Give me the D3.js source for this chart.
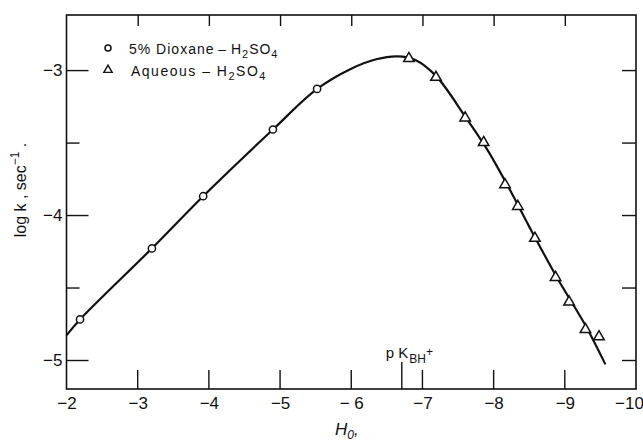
<!DOCTYPE html>
<html>
<head>
<meta charset="utf-8">
<script src="https://cdn.jsdelivr.net/npm/d3@7"></script>
<style>
  body { margin: 0; background: #fff; }
  text { font-family: "Liberation Sans", Arial, sans-serif; fill: #111; }
</style>
</head>
<body>
<div id="container"></div>
<script>
// Data
const dioxaneH0 = [-2.19, -3.2, -3.92, -4.9, -5.52];
const dioxaneLogK = [-4.72, -4.23, -3.87, -3.41, -3.13];
const aqueousH0 = [-6.81, -7.19, -7.6, -7.86, -8.16, -8.34, -8.58, -8.87, -9.06, -9.29, -9.48];
const aqueousLogK = [-2.92, -3.05, -3.33, -3.5, -3.79, -3.94, -4.16, -4.43, -4.6, -4.79, -4.84];
const curveH0 = [-2.0, -2.19, -3.2, -3.92, -4.9, -5.52, -6.0, -6.35, -6.65, -6.9, -7.19, -7.6, -7.9, -8.2, -8.5, -8.9, -9.3, -9.57];
const curveLogK = [-4.83, -4.72, -4.23, -3.87, -3.41, -3.13, -2.99, -2.925, -2.905, -2.93, -3.04, -3.32, -3.54, -3.8, -4.08, -4.44, -4.77, -5.03];
const xTicks = [-2, -3, -4, -5, -6, -7, -8, -9, -10];
const xTickLabels = ["\u22122", "\u22123", "\u22124", "\u22125", "\u2212 6", "\u22127", "\u22128", "\u22129", "\u221210"];
const yTicks = [-3, -4, -5];
const yMinorTicks = [-3.5, -4.5];
const pKBH = -6.71;

const width = 643, height = 441;
const margin = { top: 15, right: 7, bottom: 52, left: 66.5 };
const innerW = width - margin.left - margin.right;
const innerH = height - margin.top - margin.bottom;

const svg = d3.select("#container").append("svg")
  .attr("width", width).attr("height", height);
const g = svg.append("g")
  .attr("transform", "translate(" + margin.left + "," + margin.top + ")");

const x = d3.scaleLinear().domain([-2, -10]).range([0, innerW]);
const y = d3.scaleLinear().domain([-5.2, -2.62]).range([innerH, 0]);

function styleTicks(sel) {
  sel.select(".domain").remove();
  sel.selectAll("line").attr("stroke", "#111").attr("stroke-width", 1.4);
}

// frame
g.append("rect")
  .attr("width", innerW).attr("height", innerH)
  .attr("fill", "none").attr("stroke", "#111").attr("stroke-width", 1.6);

// bottom ticks point up into the plot
g.append("g").selectAll("line")
  .data(xTicks.slice(1, -1))
  .enter().append("line")
  .attr("x1", d => x(d)).attr("x2", d => x(d))
  .attr("y1", innerH).attr("y2", innerH - 19)
  .attr("stroke", "#111").attr("stroke-width", 1.4);

// bottom labels
const bottomLabels = g.append("g").attr("transform", "translate(0," + innerH + ")")
  .call(d3.axisBottom(x).tickValues(xTicks).tickSize(0).tickPadding(8)
    .tickFormat((d, i) => xTickLabels[i]));
bottomLabels.select(".domain").remove();
bottomLabels.selectAll("text").attr("font-size", 17).attr("fill", "#111")
  .attr("dx", d => d === -10 ? -7 : 0);

// top ticks point down
const topAx = g.append("g")
  .call(d3.axisBottom(x).tickValues(xTicks.slice(1, -1)).tickSize(11).tickFormat(""));
styleTicks(topAx);

// left axis
const leftAx = g.append("g")
  .call(d3.axisLeft(y).tickValues(yTicks).tickSize(-22).tickPadding(-2)
    .tickFormat(d => "\u2212" + Math.abs(d)));
styleTicks(leftAx);
leftAx.selectAll("text").attr("font-size", 17).attr("fill", "#111").attr("dx", -6);
const leftMinor = g.append("g")
  .call(d3.axisLeft(y).tickValues(yMinorTicks).tickSize(-13).tickFormat(""));
styleTicks(leftMinor);

// right axis
const rightAx = g.append("g").attr("transform", "translate(" + innerW + ",0)")
  .call(d3.axisRight(y).tickValues(yTicks.concat(yMinorTicks)).tickSize(-14).tickFormat(""));
styleTicks(rightAx);

// pK_BH+ marker
g.append("line")
  .attr("x1", x(pKBH)).attr("x2", x(pKBH))
  .attr("y1", innerH).attr("y2", innerH - 27)
  .attr("stroke", "#111").attr("stroke-width", 1.4);
const pk = g.append("text")
  .attr("x", x(pKBH) - 16).attr("y", innerH - 31)
  .attr("font-size", 15);
pk.append("tspan").text("p K");
pk.append("tspan").attr("font-size", 12).attr("dy", 5).attr("dx", 1).text("BH");
pk.append("tspan").attr("font-size", 12).attr("dy", -7).text("+");

// fitted curve
const curvePts = curveH0.map((h, i) => [h, curveLogK[i]]);
g.append("path").datum(curvePts)
  .attr("fill", "none").attr("stroke", "#111").attr("stroke-width", 2.2)
  .attr("d", d3.line().x(d => x(d[0])).y(d => y(d[1])).curve(d3.curveCatmullRom.alpha(0.5)));

// dioxane circles
g.selectAll(".circ").data(dioxaneH0.map((h, i) => [h, dioxaneLogK[i]]))
  .enter().append("circle")
  .attr("cx", d => x(d[0])).attr("cy", d => y(d[1])).attr("r", 3.6)
  .attr("fill", "#fff").attr("stroke", "#111").attr("stroke-width", 1.5);

// aqueous triangles
const tri = d3.symbol().type(d3.symbolTriangle).size(48);
g.selectAll(".tri").data(aqueousH0.map((h, i) => [h, aqueousLogK[i]]))
  .enter().append("path")
  .attr("d", tri)
  .attr("transform", d => "translate(" + x(d[0]) + "," + y(d[1]) + ")")
  .attr("fill", "#fff").attr("stroke", "#111").attr("stroke-width", 1.5);

// legend
const lg = svg.append("g");
lg.append("circle").attr("cx", 108).attr("cy", 48).attr("r", 3)
  .attr("fill", "#fff").attr("stroke", "#111").attr("stroke-width", 1.5);
lg.append("path").attr("d", d3.symbol().type(d3.symbolTriangle).size(30))
  .attr("transform", "translate(108,70)")
  .attr("fill", "#fff").attr("stroke", "#111").attr("stroke-width", 1.4);
const l1 = lg.append("text").attr("x", 129).attr("y", 54).attr("font-size", 14)
  .attr("letter-spacing", 1);
l1.append("tspan").text("5% Dioxane\u2009\u2013\u2009H");
l1.append("tspan").attr("font-size", 11).attr("dy", 4).text("2");
l1.append("tspan").attr("dy", -4).text("SO");
l1.append("tspan").attr("font-size", 11).attr("dy", 4).text("4");
const l2 = lg.append("text").attr("x", 131).attr("y", 76).attr("font-size", 14)
  .attr("letter-spacing", 1.5);
l2.append("tspan").text("Aqueous \u2013 H");
l2.append("tspan").attr("font-size", 11).attr("dy", 4).text("2");
l2.append("tspan").attr("dy", -4).text("SO");
l2.append("tspan").attr("font-size", 11).attr("dy", 4).text("4");

// y axis title
const yt = svg.append("text")
  .attr("transform", "translate(26,190) rotate(-90)")
  .attr("text-anchor", "middle").attr("font-size", 16);
yt.append("tspan").text("log k , sec");
yt.append("tspan").attr("font-size", 12).attr("dy", -7).text("\u22121");
yt.append("tspan").attr("dy", 7).text(" .");

// x axis title
const xt = svg.append("text")
  .attr("x", 335).attr("y", 435).attr("font-size", 17).attr("font-style", "italic");
xt.append("tspan").text("H");
xt.append("tspan").attr("font-size", 12).attr("dy", 4).text("0");
xt.append("tspan").attr("dy", -4).text(",");
</script>
</body>
</html>
